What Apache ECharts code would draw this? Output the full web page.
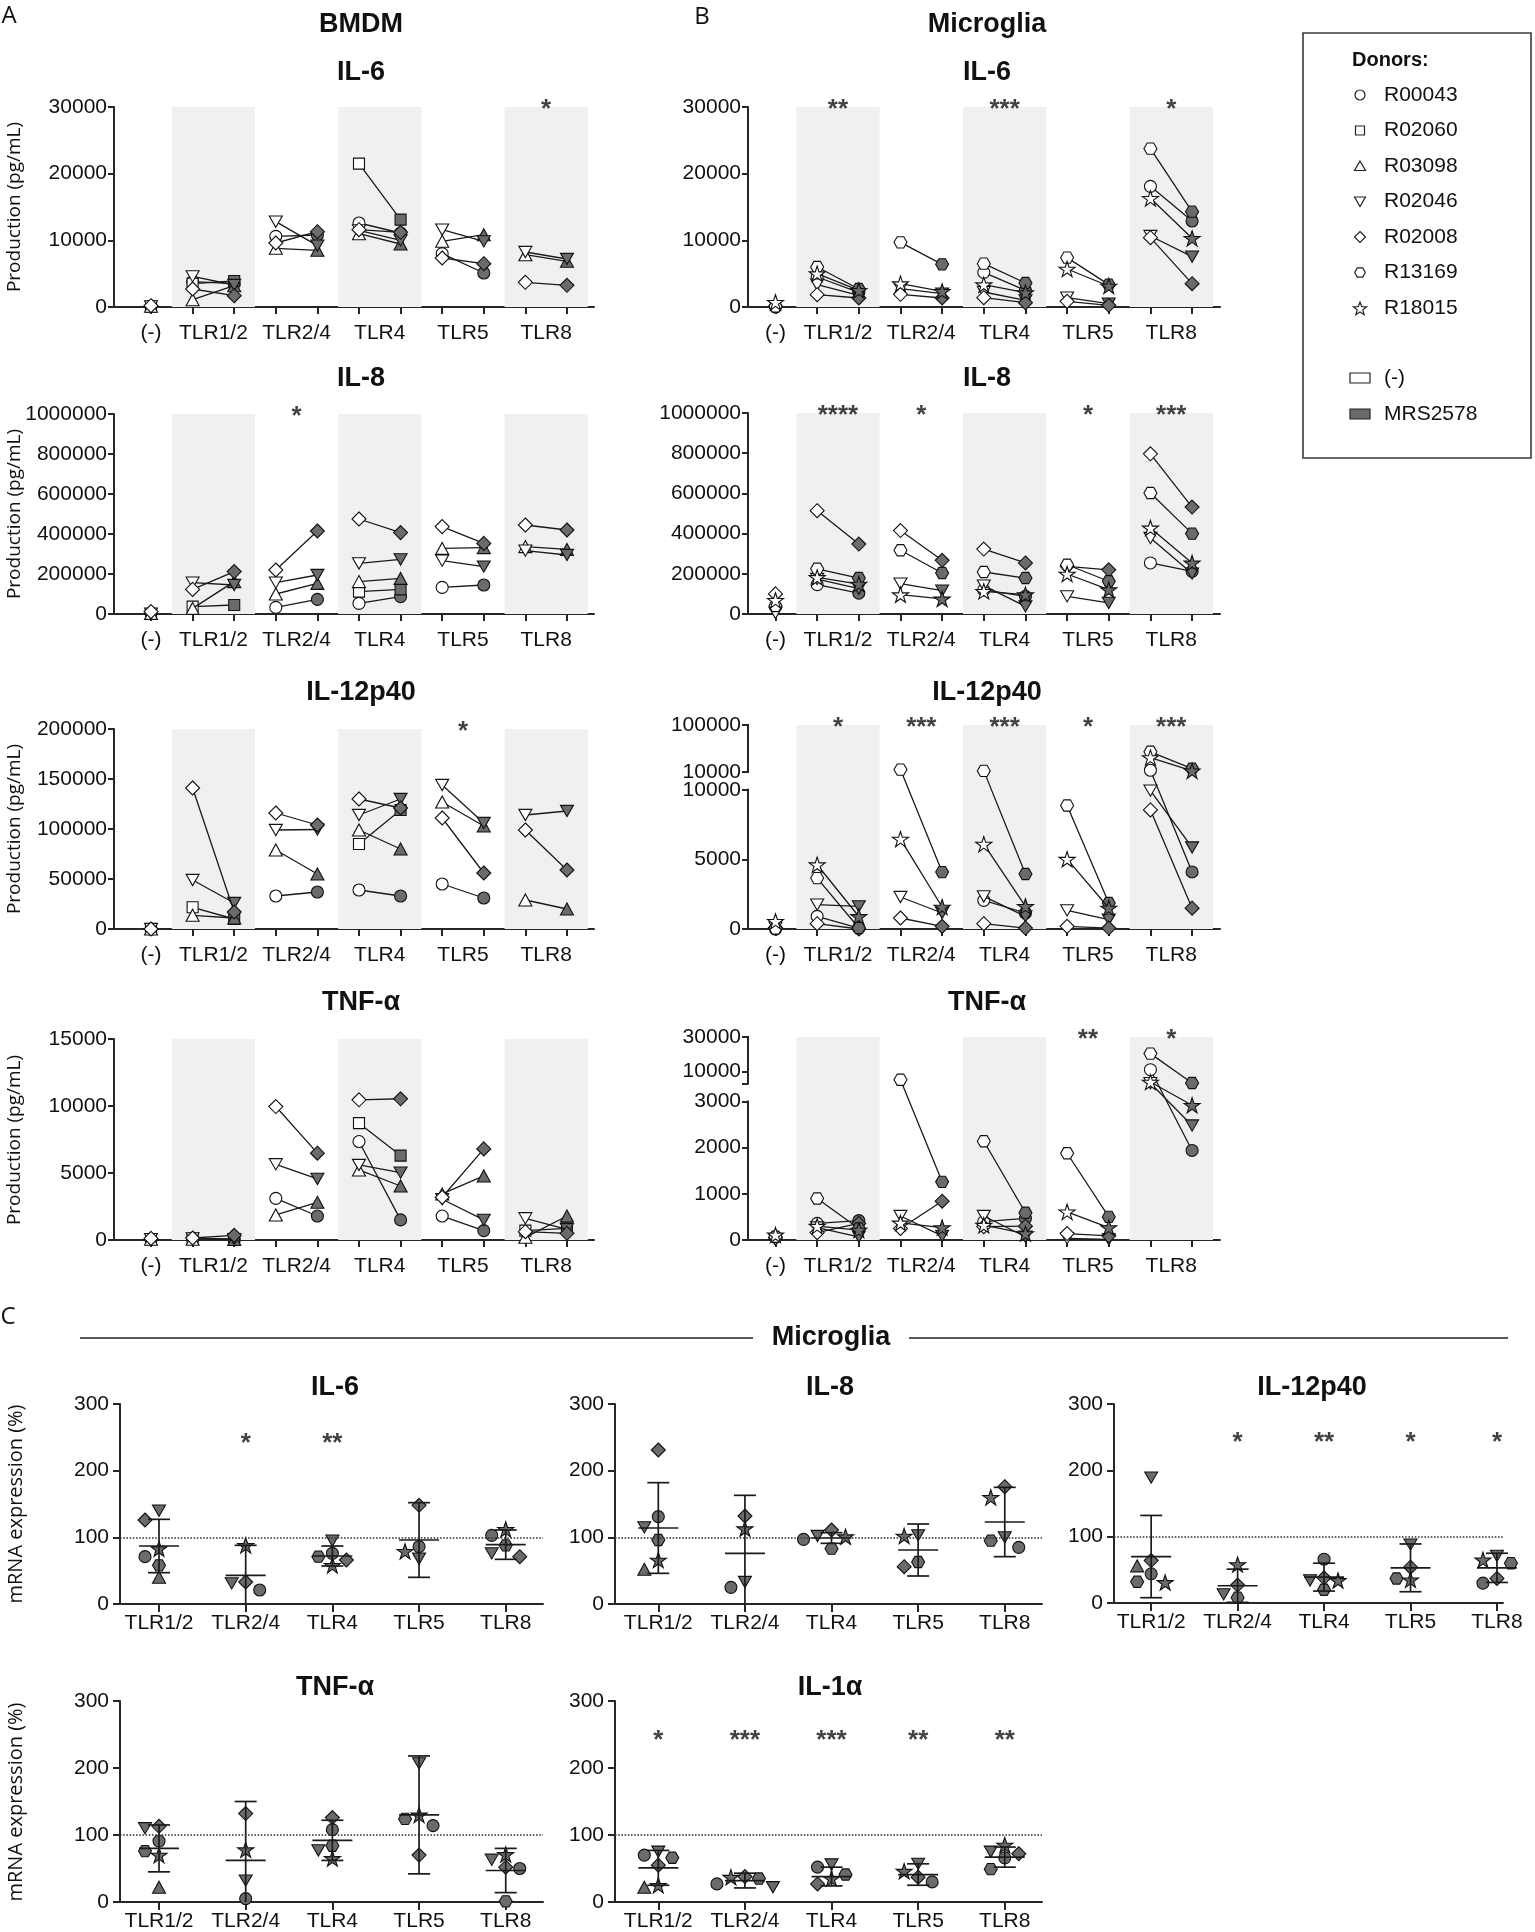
<!DOCTYPE html>
<html><head><meta charset="utf-8">
<script src="https://cdn.jsdelivr.net/npm/echarts@6.0.0/dist/echarts.min.js"></script>
<style>html,body{margin:0;padding:0;background:#fff}#c{width:1535px;height:1932px}</style>
</head><body><div id="c"></div>
<script>
// ================= DATA =================
const stimCategories = ['(-)', 'TLR1/2', 'TLR2/4', 'TLR4', 'TLR5', 'TLR8'];
const mrnaCategories = ['TLR1/2', 'TLR2/4', 'TLR4', 'TLR5', 'TLR8'];
const legendDonors = ['R00043', 'R02060', 'R03098', 'R02046', 'R02008', 'R13169', 'R18015'];
const bmdmDonors = ['R00043', 'R02060', 'R03098', 'R02046', 'R02008'];
const microgliaDonors = ['R00043', 'R02046', 'R02008', 'R13169', 'R18015'];
const mrnaDonors = ['R00043', 'R03098', 'R02046', 'R02008', 'R13169', 'R18015'];

// value order per donor: (-), TLR1/2 (-), TLR1/2 MRS, TLR2/4 (-), TLR2/4 MRS, TLR4 (-), TLR4 MRS, TLR5 (-), TLR5 MRS, TLR8 (-), TLR8 MRS
const bmdmIL6 = [
  [150, 3800, 3500, 10600, 10800, 12600, 11100, 8000, 5100, null, null],
  [50, 3500, 3900, null, null, 21500, 13100, null, null, null, null],
  [100, 1100, 3200, 8800, 8500, 11000, 9450, 9850, 10850, 7850, 6850],
  [100, 4600, 3300, 12800, 9200, 11500, 10000, 11600, 9850, 8250, 7200],
  [200, 2700, 1700, 9600, 11300, 11600, 11200, 7350, 6500, 3700, 3250]
];
const bmdmIL8 = [
  [5000, null, null, 33000, 73000, 53000, 87000, 133000, 145000, null, null],
  [0, 37000, 45000, null, null, 112000, 123000, null, null, null, null],
  [3000, 28000, 162000, 100000, 153000, 162000, 178000, 328000, 332000, 337000, 323000],
  [2000, 157000, 145000, 157000, 195000, 253000, 273000, 267000, 237000, 317000, 295000],
  [12000, 123000, 212000, 220000, 415000, 475000, 407000, 437000, 353000, 445000, 420000]
];
const bmdmIL12 = [
  [0, null, null, 33000, 37000, 39000, 33000, 45000, 31000, null, null],
  [0, 21700, 10000, null, null, 85000, 119000, null, null, null, null],
  [0, 13700, 11000, 79000, 55000, 99000, 80000, 127000, 103000, 29000, 20000],
  [0, 49000, 26000, 99000, 99500, 114000, 130000, 144000, 106000, 114000, 118000],
  [0, 141000, 17000, 116000, 104000, 130000, 121000, 111000, 56000, 99000, 59000]
];
const bmdmTNF = [
  [80, 100, 50, 3110, 1790, 7350, 1500, 1790, 700, null, null],
  [60, 100, 30, null, null, 8720, 6300, null, null, 700, 870],
  [50, 60, 40, 1870, 2810, 5230, 4030, 3440, 4780, 200, 1790],
  [70, 120, 60, 5650, 4560, 5600, 5030, 3040, 1500, 1620, 800],
  [120, 150, 350, 9960, 6480, 10460, 10540, 3190, 6800, 620, 500]
];
const micIL6 = [
  [0, 4500, 2200, null, null, 5200, 2500, null, null, 18100, 12900],
  [100, 3350, 1750, 2750, 2000, 2250, 1000, 1400, 500, 10650, 7550],
  [100, 1850, 1350, 1900, 1350, 1400, 650, 850, 250, 10400, 3500],
  [100, 6000, 2700, 9700, 6400, 6500, 3600, 7400, 3350, 23750, 14300],
  [700, 5000, 2500, 3500, 2350, 3350, 2150, 5700, 3150, 16300, 10300]
];
const micIL8 = [
  [38000, 146000, 104000, null, null, 120000, 88000, null, null, 254000, 212000],
  [5000, 174000, 126000, 151000, 116000, 141000, 38000, 88000, 55000, 378000, 201000],
  [100000, 514000, 348000, 415000, 267000, 323000, 254000, 237000, 220000, 797000, 532000],
  [40000, 225000, 179000, 317000, 204000, 209000, 179000, 245000, 163000, 602000, 400000],
  [68000, 182000, 149000, 96000, 75000, 113000, 96000, 199000, 121000, 428000, 254000]
];
const micIL12 = [
  [0, 910, 70, null, null, 2060, 1150, null, null, 13200, 4100],
  [100, 1750, 1630, 2300, 1150, 2340, 910, 1340, 670, 9950, 5860],
  [100, 380, 0, 790, 190, 380, 70, 190, 70, 8560, 1500],
  [50, 3660, 70, 14500, 4090, 12000, 3950, 8880, 1870, 48600, 16400],
  [550, 4620, 900, 6460, 1580, 6100, 1630, 5020, 1510, 37600, 12000]
];
const micTNF = [
  [70, 360, 420, null, null, 400, 470, null, null, 11100, 1940],
  [0, 270, 70, 520, 90, 520, 70, 35, 15, 3300, 2480],
  [50, 160, 360, 250, 840, 290, 300, 140, 90, null, null],
  [70, 900, 250, 5300, 1260, 2140, 590, 1880, 500, 20400, 3400],
  [110, 300, 215, 370, 270, 320, 140, 610, 270, 3970, 2920]
];

// y tick labels
const bmdmIL6Ticks = [0, 10000, 20000, 30000];
const bmdmIL8Ticks = [0, 200000, 400000, 600000, 800000, 1000000];
const bmdmIL12Ticks = [0, 50000, 100000, 150000, 200000];
const bmdmTNFTicks = [0, 5000, 10000, 15000];
const micIL6Ticks = [0, 10000, 20000, 30000];
const micIL8Ticks = [0, 200000, 400000, 600000, 800000, 1000000];
const micIL12LowTicks = [0, 5000, 10000];
const micIL12HighTicks = [10000, 100000];
const micIL12HighLabels = ['10000', '100000'];
const micTNFLowTicks = [0, 1000, 2000, 3000];
const micTNFHighTicks = [3000, 10000, 30000];
const micTNFHighLabels = ['', '10000', '30000'];
const mrnaTicks = [0, 100, 200, 300];

// significance marks per stimulus (TLR1/2, TLR2/4, TLR4, TLR5, TLR8)
const sigBmdmIL6 = ['', '', '', '', '*'];
const sigBmdmIL8 = ['', '*', '', '', ''];
const sigBmdmIL12 = ['', '', '', '*', ''];
const sigBmdmTNF = ['', '', '', '', ''];
const sigMicIL6 = ['**', '', '***', '', '*'];
const sigMicIL8 = ['****', '*', '', '*', '***'];
const sigMicIL12 = ['*', '***', '***', '*', '***'];
const sigMicTNF = ['', '', '', '**', '*'];
const sigMrnaIL6 = ['', '*', '**', '', ''];
const sigMrnaIL8 = ['', '', '', '', ''];
const sigMrnaIL12 = ['', '*', '**', '*', '*'];
const sigMrnaTNF = ['', '', '', '', ''];
const sigMrnaIL1a = ['*', '***', '***', '**', '**'];

// mRNA expression (%) per donor (order mrnaDonors), categories TLR1/2..TLR8
const mrnaIL6 = [
  [71, 21, 76, 86, 103],
  [40, null, null, null, null],
  [140, 31, 95, 68, 76],
  [126, 33, 66, 148, 71],
  [58, null, 71, null, 88],
  [83, 88, 58, 79, 112]
];
const mrnaIL6Mean = [87, 43, 72, 96, 89];
const mrnaIL6SD = [40, 45, 15, 56, 22];
const mrnaIL8 = [
  [131, 25, 97, null, 85],
  [52, null, null, null, null],
  [115, 33, 102, 103, 100],
  [231, 132, 111, 56, 176],
  [96, null, 83, 63, 95],
  [66, 113, 101, 102, 160]
];
const mrnaIL8Mean = [114, 76, 99, 81, 123];
const mrnaIL8SD = [68, 87, 8, 39, 52];
const mrnaIL12 = [
  [44, null, 66, null, 30],
  [56, null, null, null, null],
  [189, 13, 34, 88, 71],
  [64, 27, 38, 54, 37],
  [32, 8, 20, 37, 60],
  [31, 58, 34, 35, 65]
];
const mrnaIL12Mean = [70, 26, 39, 53, 53];
const mrnaIL12SD = [62, 25, 21, 36, 22];
const mrnaTNF = [
  [91, 5, 108, 114, 50],
  [22, null, null, null, null],
  [110, 32, 77, 207, 63],
  [113, 132, 126, 70, 52],
  [76, null, 84, 124, 1],
  [70, 78, 65, 130, 71]
];
const mrnaTNFMean = [80, 62, 92, 130, 47];
const mrnaTNFSD = [35, 88, 30, 88, 33];
const mrnaIL1a = [
  [70, 27, 52, 30, 66],
  [22, null, null, null, null],
  [75, 22, 56, 57, 75],
  [55, 38, 27, 37, 72],
  [66, 35, 41, null, 49],
  [25, 37, 35, 46, 85]
];
const mrnaIL1aMean = [51, 32, 38, 41, 67];
const mrnaIL1aSD = [26, 11, 14, 16, 15];

// ================= STYLE / BUILD =================
const FONT = "'Liberation Sans', Arial, Helvetica, sans-serif";
const AX = '#262626';
const INK = '#111111';
const GRAY = '#6b6b6b';
const BAND = '#eff0f0';
const LF = 0.682, GF = 0.088; // broken axis: lower segment fraction, gap fraction

const SYM = {
  R00043: 'circle',
  R02060: 'rect',
  R03098: 'triangle',
  R02046: 'path://M0,0L10,0L5,8.66Z',
  R02008: 'diamond',
  R13169: 'path://M2.5,0L7.5,0L10,4.33L7.5,8.66L2.5,8.66L0,4.33Z',
  R18015: 'path://M50,0L61.8,36.2L100,36.2L69.1,58.8L80.9,95.1L50,72.7L19.1,95.1L30.9,58.8L0,36.2L38.2,36.2Z'
};
const SYMSIZE = { R00043: 12, R02060: 11, R03098: [13, 12], R02046: 13, R02008: 14, R13169: 13, R18015: 16 };

const grids = [], xAxes = [], yAxes = [], series = [], graphics = [];
const brokenAxes = []; // {gi, xMin} for drawing axis segments after layout

function yAxisPlain(gi, ticks, margin, tickLen) {
  return {
    gridIndex: gi, type: 'value', min: ticks[0], max: ticks[ticks.length - 1],
    axisLine: { show: true, onZero: false, lineStyle: { color: AX, width: 2 } },
    axisTick: { show: true, length: tickLen, lineStyle: { color: AX, width: 2 }, customValues: ticks },
    axisLabel: { show: true, customValues: ticks, formatter: v => String(v), fontSize: 21, fontFamily: FONT, color: INK, margin: margin },
    splitLine: { show: false }
  };
}

function prodChart(o) {
  const gi = grids.length;
  grids.push({ left: o.left, top: o.top, width: o.width, height: o.height });
  xAxes.push({
    gridIndex: gi, type: 'value', min: o.xMin, max: o.xMax,
    axisLine: { show: true, onZero: false, lineStyle: { color: AX, width: 2 } },
    axisTick: { show: true, length: 7, lineStyle: { color: AX, width: 2 }, customValues: [0, 1, 2, 3, 4, 5, 6, 7, 8, 9, 10] },
    axisLabel: {
      show: true, customValues: [0, 1.5, 3.5, 5.5, 7.5, 9.5],
      formatter: v => v === 0 ? stimCategories[0] : stimCategories[Math.round((v + 0.5) / 2)],
      fontSize: 21, fontFamily: FONT, color: INK, margin: 16
    },
    splitLine: { show: false }
  });
  let tf = v => v, top;
  if (o.broken) {
    const b = o.broken;
    const lowF = v => v / b.lowMax * LF;
    const highF = v => LF + GF + (v - b.highMin) / (b.highMax - b.highMin) * (1 - LF - GF);
    tf = v => v <= b.lowMax ? lowF(v) : highF(v);
    const pos = b.lowTicks.map(lowF).concat(b.highTicks.map(highF));
    const txt = b.lowTicks.map(String).concat(b.highLabels);
    yAxes.push({
      gridIndex: gi, type: 'value', min: 0, max: 1,
      axisLine: { show: false, onZero: false },
      axisTick: { show: true, length: 6, lineStyle: { color: AX, width: 2 }, customValues: pos },
      axisLabel: {
        show: true, customValues: pos, fontSize: 21, fontFamily: FONT, color: INK, margin: 7,
        formatter: v => { const k = pos.findIndex(p => Math.abs(p - v) < 1e-7); return k < 0 ? '' : txt[k]; }
      },
      splitLine: { show: false }
    });
    brokenAxes.push({ gi, xMin: o.xMin });
    top = 1;
  } else {
    yAxes.push(yAxisPlain(gi, o.ticks, 7, 6));
    top = o.ticks[o.ticks.length - 1];
  }
  // shaded stimulus bands
  series.push({
    type: 'line', xAxisIndex: gi, yAxisIndex: gi, data: [[o.xMin - 100, 0]], symbol: 'none', silent: true, z: 1,
    lineStyle: { opacity: 0 },
    markArea: {
      silent: true, itemStyle: { color: BAND },
      data: [[{ xAxis: 0.5 }, { xAxis: 2.5 }], [{ xAxis: 4.5 }, { xAxis: 6.5 }], [{ xAxis: 8.5 }, { xAxis: 10.5 }]]
    }
  });
  // donors
  o.donors.forEach((d, di) => {
    const vals = o.values[di];
    const data = [];
    vals.forEach((v, i) => {
      if (i > 0 && i % 2 === 1) data.push([i - 0.5, '-']);
      if (v == null) { data.push([i, '-']); return; }
      data.push({ value: [i, tf(v)], itemStyle: { color: (i === 0 || i % 2 === 1) ? '#ffffff' : GRAY } });
    });
    series.push({
      type: 'line', name: d, xAxisIndex: gi, yAxisIndex: gi, data,
      symbol: SYM[d], symbolSize: SYMSIZE[d], symbolKeepAspect: true, showSymbol: true, showAllSymbol: true,
      connectNulls: false, clip: false, z: 3 + di * 0.01,
      lineStyle: { color: '#1a1a1a', width: 1.3 },
      itemStyle: { borderColor: '#111', borderWidth: 1.1 }
    });
  });
  // significance
  const sdata = o.sig.map((s, k) => [1.5 + 2 * k, top, s]).filter(d => d[2]);
  series.push({
    type: 'scatter', xAxisIndex: gi, yAxisIndex: gi, data: sdata, symbolSize: 1, clip: false, silent: true, z: 7,
    itemStyle: { color: 'rgba(0,0,0,0)' },
    label: { show: true, position: 'inside', formatter: p => p.data[2], fontSize: 26, fontWeight: 'bold', fontFamily: FONT, color: INK, offset: [0, 3] }
  });
}

function mrnaChart(o) {
  const gi = grids.length;
  grids.push({ left: o.left, top: o.top, width: o.width, height: o.height });
  xAxes.push({
    gridIndex: gi, type: 'value', min: o.xMin, max: o.xMax,
    axisLine: { show: true, onZero: false, lineStyle: { color: AX, width: 2 } },
    axisTick: { show: true, length: 8, lineStyle: { color: AX, width: 2 }, customValues: [0, 1, 2, 3, 4] },
    axisLabel: { show: true, customValues: [0, 1, 2, 3, 4], formatter: v => mrnaCategories[Math.round(v)], fontSize: 21, fontFamily: FONT, color: INK, margin: 9 },
    splitLine: { show: false }
  });
  yAxes.push(yAxisPlain(gi, mrnaTicks, 11, 7));
  const yMax = mrnaTicks[mrnaTicks.length - 1];
  // mean +/- SD
  series.push({
    type: 'custom', xAxisIndex: gi, yAxisIndex: gi, z: 4, silent: true, clip: false,
    data: o.mean.map((m, i) => [i, m, o.sd[i]]),
    renderItem: (params, api) => {
      const c = api.value(0), m = api.value(1), s = api.value(2);
      const pm = api.coord([c, m]);
      const pt = api.coord([c, Math.min(yMax, m + s)]);
      const low = m - s;
      const pl = api.coord([c, Math.max(0, low)]);
      const st = { stroke: '#1a1a1a', lineWidth: 1.7 };
      const ch = [
        { type: 'line', shape: { x1: pm[0] - 20, y1: pm[1], x2: pm[0] + 20, y2: pm[1] }, style: st },
        { type: 'line', shape: { x1: pm[0], y1: pt[1], x2: pm[0], y2: pl[1] }, style: st },
        { type: 'line', shape: { x1: pm[0] - 11, y1: pt[1], x2: pm[0] + 11, y2: pt[1] }, style: st }
      ];
      if (low >= 0) ch.push({ type: 'line', shape: { x1: pm[0] - 11, y1: pl[1], x2: pm[0] + 11, y2: pl[1] }, style: st });
      return { type: 'group', children: ch };
    },
    markLine: {
      silent: true, symbol: 'none', label: { show: false },
      lineStyle: { type: 'dotted', color: '#333', width: 1.6 },
      data: [{ yAxis: 100 }]
    }
  });
  // beeswarm spreading of points
  const pxPerX = o.width / (o.xMax - o.xMin), pxPerY = o.height / yMax;
  const STEP = 14, MIN = 11.5;
  const offsets = mrnaDonors.map(() => [0, 0, 0, 0, 0]);
  for (let c = 0; c < 5; c++) {
    const pts = [];
    mrnaDonors.forEach((d, di) => { const v = o.values[di][c]; if (v != null) pts.push({ di, v }); });
    pts.sort((a, b) => b.v - a.v);
    const placed = [];
    pts.forEach(p => {
      const y = p.v * pxPerY;
      for (const k of [0, -1, 1, -2, 2, -3, 3]) {
        const x = k * STEP;
        if (placed.every(q => Math.hypot(q.x - x, q.y - y) >= MIN)) { placed.push({ x, y }); offsets[p.di][c] = x / pxPerX; break; }
      }
    });
  }
  mrnaDonors.forEach((d, di) => {
    const data = [];
    o.values[di].forEach((v, c) => { if (v != null) data.push([c + offsets[di][c], v]); });
    series.push({
      type: 'scatter', name: d, xAxisIndex: gi, yAxisIndex: gi, data, clip: false, z: 3,
      symbol: SYM[d], symbolSize: SYMSIZE[d], symbolKeepAspect: true,
      itemStyle: { color: GRAY, borderColor: '#111', borderWidth: 1.1, opacity: 1 }
    });
  });
  const sdata = o.sig.map((s, k) => [k, 250, s]).filter(d => d[2]);
  series.push({
    type: 'scatter', xAxisIndex: gi, yAxisIndex: gi, data: sdata, symbolSize: 1, clip: false, silent: true, z: 7,
    itemStyle: { color: 'rgba(0,0,0,0)' },
    label: { show: true, position: 'inside', formatter: p => p.data[2], fontSize: 26, fontWeight: 'bold', fontFamily: FONT, color: INK, offset: [0, 6] }
  });
}

function text(x, y, str, size, opt) {
  opt = opt || {};
  const align = opt.align || 'center';
  graphics.push({
    type: 'text', x, y, rotation: opt.rot || 0, z: 100, silent: true,
    style: {
      text: str, x: 0, y: 0, fill: opt.color || INK,
      font: (opt.weight || 'normal') + ' ' + size + 'px ' + (opt.family || FONT),
      textAlign: align, align: align, textVerticalAlign: 'middle', verticalAlign: 'middle'
    }
  });
}

// ---- panel A (BMDM) and B (Microglia) ----
const A = { left: 114, width: 480, xMin: -0.89, xMax: 10.65 };
const B = { left: 748, width: 472, xMin: -0.66, xMax: 10.67 };
prodChart(Object.assign({ top: 107, height: 200, donors: bmdmDonors, values: bmdmIL6, ticks: bmdmIL6Ticks, sig: sigBmdmIL6 }, A));
prodChart(Object.assign({ top: 414, height: 200, donors: bmdmDonors, values: bmdmIL8, ticks: bmdmIL8Ticks, sig: sigBmdmIL8 }, A));
prodChart(Object.assign({ top: 729, height: 200, donors: bmdmDonors, values: bmdmIL12, ticks: bmdmIL12Ticks, sig: sigBmdmIL12 }, A));
prodChart(Object.assign({ top: 1039, height: 201, donors: bmdmDonors, values: bmdmTNF, ticks: bmdmTNFTicks, sig: sigBmdmTNF }, A));
prodChart(Object.assign({ top: 107, height: 200, donors: microgliaDonors, values: micIL6, ticks: micIL6Ticks, sig: sigMicIL6 }, B));
prodChart(Object.assign({ top: 413, height: 201, donors: microgliaDonors, values: micIL8, ticks: micIL8Ticks, sig: sigMicIL8 }, B));
prodChart(Object.assign({
  top: 725, height: 204, donors: microgliaDonors, values: micIL12, sig: sigMicIL12,
  broken: { lowMax: 10000, highMin: 10000, highMax: 100000, lowTicks: micIL12LowTicks, highTicks: micIL12HighTicks, highLabels: micIL12HighLabels }
}, B));
prodChart(Object.assign({
  top: 1037, height: 203, donors: microgliaDonors, values: micTNF, sig: sigMicTNF,
  broken: { lowMax: 3000, highMin: 3000, highMax: 30000, lowTicks: micTNFLowTicks, highTicks: micTNFHighTicks, highLabels: micTNFHighLabels }
}, B));

// ---- panel C (mRNA) ----
const C1 = { left: 120, width: 423, xMin: -0.45, xMax: 4.43 };
const C2 = { left: 615, width: 427, xMin: -0.5, xMax: 4.43 };
const C3 = { left: 1114, width: 389, xMin: -0.43, xMax: 4.07 };
mrnaChart(Object.assign({ top: 1404, height: 200, values: mrnaIL6, mean: mrnaIL6Mean, sd: mrnaIL6SD, sig: sigMrnaIL6 }, C1));
mrnaChart(Object.assign({ top: 1404, height: 200, values: mrnaIL8, mean: mrnaIL8Mean, sd: mrnaIL8SD, sig: sigMrnaIL8 }, C2));
mrnaChart(Object.assign({ top: 1404, height: 199, values: mrnaIL12, mean: mrnaIL12Mean, sd: mrnaIL12SD, sig: sigMrnaIL12 }, C3));
mrnaChart(Object.assign({ top: 1701, height: 201, values: mrnaTNF, mean: mrnaTNFMean, sd: mrnaTNFSD, sig: sigMrnaTNF }, C1));
mrnaChart(Object.assign({ top: 1701, height: 201, values: mrnaIL1a, mean: mrnaIL1aMean, sd: mrnaIL1aSD, sig: sigMrnaIL1a }, C2));

// ---- texts ----
const LIGHT = "'Open Sans', 'Liberation Sans', sans-serif";
text(9, 16, 'A', 24, { family: LIGHT });
text(702, 17, 'B', 24, { family: LIGHT });
text(8, 1317, 'C', 24, { family: LIGHT });
text(361, 25, 'BMDM', 27, { weight: 'bold' });
text(987, 25, 'Microglia', 27, { weight: 'bold' });
const prodTitles = ['IL-6', 'IL-8', 'IL-12p40', 'TNF-α'];
const titleY = [73, 379, 693, 1003];
prodTitles.forEach((t, i) => { text(361, titleY[i], t, 27, { weight: 'bold' }); text(987, titleY[i], t, 27, { weight: 'bold' }); });
[207, 514, 829, 1140].forEach(y => text(15, y, 'Production (pg/mL)', 19, { rot: Math.PI / 2, family: LIGHT }));
[1504, 1802].forEach(y => text(16, y, 'mRNA expression (%)', 20, { rot: Math.PI / 2, family: LIGHT }));
// C header
graphics.push({ type: 'line', shape: { x1: 80, y1: 1338, x2: 753, y2: 1338 }, style: { stroke: '#222', lineWidth: 1.5 }, silent: true });
graphics.push({ type: 'line', shape: { x1: 909, y1: 1338, x2: 1508, y2: 1338 }, style: { stroke: '#222', lineWidth: 1.5 }, silent: true });
text(831, 1338, 'Microglia', 27, { weight: 'bold' });
text(335, 1388, 'IL-6', 27, { weight: 'bold' });
text(830, 1388, 'IL-8', 27, { weight: 'bold' });
text(1312, 1388, 'IL-12p40', 27, { weight: 'bold' });
text(335, 1688, 'TNF-α', 27, { weight: 'bold' });
text(830, 1688, 'IL-1α', 27, { weight: 'bold' });

// ---- legend box ----
graphics.push({ type: 'rect', shape: { x: 1303, y: 33, width: 228, height: 425 }, style: { fill: 'none', stroke: '#3a3a3a', lineWidth: 1.6 }, silent: true });
text(1352, 60, 'Donors:', 20, { weight: 'bold', align: 'left' });
function legendShape(d, cx, cy) {
  const st = { fill: '#fff', stroke: '#222', lineWidth: 1.2 };
  let pts;
  if (d === 'R00043') return { type: 'circle', shape: { cx, cy, r: 5 }, style: st };
  if (d === 'R02060') return { type: 'rect', shape: { x: cx - 4.5, y: cy - 4.5, width: 9, height: 9 }, style: st };
  if (d === 'R03098') pts = [[cx, cy - 5], [cx + 5.5, cy + 4.5], [cx - 5.5, cy + 4.5]];
  if (d === 'R02046') pts = [[cx - 5.5, cy - 4.5], [cx + 5.5, cy - 4.5], [cx, cy + 5]];
  if (d === 'R02008') pts = [[cx, cy - 5.5], [cx + 5.5, cy], [cx, cy + 5.5], [cx - 5.5, cy]];
  if (d === 'R13169') pts = [[cx - 2.7, cy - 4.6], [cx + 2.7, cy - 4.6], [cx + 5.3, cy], [cx + 2.7, cy + 4.6], [cx - 2.7, cy + 4.6], [cx - 5.3, cy]];
  if (d === 'R18015') {
    pts = [];
    for (let k = 0; k < 10; k++) {
      const r = k % 2 === 0 ? 7 : 2.9, a = -Math.PI / 2 + k * Math.PI / 5;
      pts.push([cx + r * Math.cos(a), cy + 1 + r * Math.sin(a)]);
    }
  }
  return { type: 'polygon', shape: { points: pts }, style: st };
}
legendDonors.forEach((d, i) => {
  const y = 95 + 35.5 * i;
  const g = legendShape(d, 1360, y); g.silent = true; graphics.push(g);
  text(1384, y, d, 21, { align: 'left' });
});
graphics.push({ type: 'rect', shape: { x: 1350, y: 373, width: 20, height: 10 }, style: { fill: '#fff', stroke: '#222', lineWidth: 1.2 }, silent: true });
text(1384, 378, '(-)', 21, { align: 'left' });
graphics.push({ type: 'rect', shape: { x: 1350, y: 409, width: 20, height: 10 }, style: { fill: GRAY, stroke: '#222', lineWidth: 1.2 }, silent: true });
text(1384, 414, 'MRS2578', 21, { align: 'left' });

const chart = echarts.init(document.getElementById('c'), null, { renderer: 'canvas' });
chart.setOption({
  animation: false,
  backgroundColor: '#ffffff',
  textStyle: { fontFamily: FONT },
  grid: grids, xAxis: xAxes, yAxis: yAxes, series,
  graphic: { elements: graphics }
});

// broken y-axis lines: two segments per axis, placed through the chart's own scales
brokenAxes.forEach(b => {
  [[0, LF], [LF + GF, 1]].forEach(s => {
    const p1 = chart.convertToPixel({ gridIndex: b.gi }, [b.xMin, s[0]]);
    const p2 = chart.convertToPixel({ gridIndex: b.gi }, [b.xMin, s[1]]);
    graphics.push({
      type: 'line', silent: true, z: 50,
      shape: { x1: p1[0], y1: p1[1] + 1, x2: p2[0], y2: p2[1] - 1 },
      style: { stroke: AX, lineWidth: 2 }
    });
  });
});
chart.setOption({ graphic: { elements: graphics } });
</script></body></html>
